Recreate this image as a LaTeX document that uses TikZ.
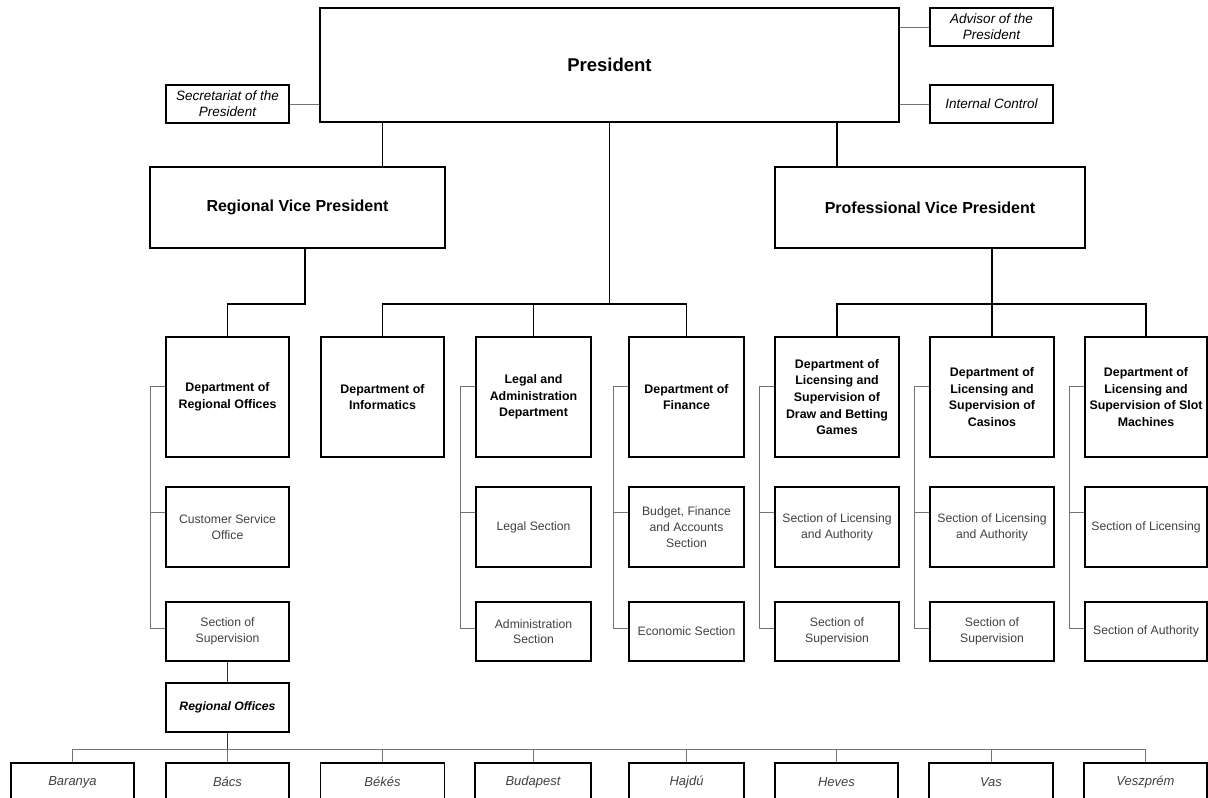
\documentclass[tikz,border=0pt]{standalone}
\usepackage{fontspec}
\setmainfont{Liberation Sans}
\begin{document}
\begin{tikzpicture}[x=1pt, y=-1pt,
          every node/.style={draw, shape=rectangle, line width=1.5pt, align=center, inner sep=1pt},
          dept/.style={minimum height=120pt, font=\bfseries\fontsize{12.4}{16.6}\selectfont},
          sect/.style={minimum height=80pt, text=black!75, font=\fontsize{12.2}{15.7}\selectfont},
          low/.style={sect, minimum height=59pt},
          vp/.style={minimum height=81pt, font=\bfseries\fontsize{16}{19}\selectfont},
          aide/.style={minimum width=123pt, minimum height=38pt, font=\itshape\fontsize{13.5}{16.3}\selectfont},
          county/.style={minimum height=38pt, text=black!75, font=\itshape\fontsize{13}{15}\selectfont},
          link/.style={line width=1.6pt},
          sub/.style={line width=0.9pt, black!55}]
  \useasboundingbox (0,0) rectangle (1208,798);
  \node[minimum width=579pt, minimum height=114pt, font=\bfseries\fontsize{18.5}{22}\selectfont] (pres) at (609.5,65) {President};
  \node[aide] (secr) at (227.5,104) {Secretariat of the\\President};
  \node[aide] (adv) at (991.5,27) {Advisor of the\\President};
  \node[aide] (ictrl) at (991.5,104) {Internal Control};
  \node[vp, minimum width=295pt] (rvp) at (297.5,207.5) {Regional Vice President};
  \node[vp, minimum width=310pt] (pvp) at (930,207.5) {Professional Vice President};

  \node[dept, minimum width=123pt] (dreg) at (227.5,397) {Department of\\Regional Offices};
  \node[dept, minimum width=123pt] (dinf) at (382.5,397) {Department of\\Informatics};
  \node[dept, minimum width=115pt] (dleg) at (533.5,397) {Legal and\\Administration\\Department};
  \node[dept, minimum width=115pt] (dfin) at (686.5,397) {Department of\\Finance};
  \node[dept, minimum width=124pt] (ddraw) at (837,397) {Department of\\Licensing and\\Supervision of\\Draw and Betting\\Games};
  \node[dept, minimum width=124pt] (dcas) at (992,397) {Department of\\Licensing and\\Supervision of\\Casinos};
  \node[dept, minimum width=122pt] (dslot) at (1146,397) {Department of\\Licensing and\\Supervision of Slot\\Machines};

  \node[sect, minimum width=123pt] (sreg) at (227.5,527) {Customer Service\\Office};
  \node[sect, minimum width=115pt] (sleg) at (533.5,527) {Legal Section};
  \node[sect, minimum width=115pt] (sfin) at (686.5,527) {Budget, Finance\\and Accounts\\Section};
  \node[sect, minimum width=124pt] (sdraw) at (837,527) {Section of Licensing\\and Authority};
  \node[sect, minimum width=124pt] (scas) at (992,527) {Section of Licensing\\and Authority};
  \node[sect, minimum width=122pt] (sslot) at (1146,527) {Section of Licensing};

  \node[low, minimum width=123pt] (treg) at (227.5,631.5) {Section of\\Supervision};
  \node[low, minimum width=115pt] (tleg) at (533.5,631.5) {Administration\\Section};
  \node[low, minimum width=115pt] (tfin) at (686.5,631.5) {Economic Section};
  \node[low, minimum width=124pt] (tdraw) at (837,631.5) {Section of\\Supervision};
  \node[low, minimum width=124pt] (tcas) at (992,631.5) {Section of\\Supervision};
  \node[low, minimum width=122pt] (tslot) at (1146,631.5) {Section of Authority};

  \node[minimum width=123pt, minimum height=49pt, font=\bfseries\itshape\fontsize{12.2}{15}\selectfont] (ro) at (227.5,707.5) {Regional Offices};

  \node[county, minimum width=123pt] (c0) at (72.5,782) {Baranya};
  \node[county, minimum width=123pt] (c1) at (227.5,782) {Bács};
  \node[county, minimum width=124pt] (c2) at (382.5,782) {Békés};
  \node[county, minimum width=116pt] (c3) at (533,782) {Budapest};
  \node[county, minimum width=115pt] (c4) at (686.5,782) {Hajdú};
  \node[county, minimum width=123pt] (c5) at (836.5,782) {Heves};
  \node[county, minimum width=124pt] (c6) at (991,782) {Vas};
  \node[county, minimum width=123pt] (c7) at (1145.5,782) {Veszprém};

  \coordinate (hub) at (609.5,304);
  \coordinate (rhub) at (305,304);
  \coordinate (phub) at (992,304);
  \coordinate (obus) at (227.5,749);

  \draw[sub] (secr.east) -- (secr.east -| pres.west);
  \draw[sub] (adv.west) -- (adv.west -| pres.east);
  \draw[sub] (ictrl.west) -- (ictrl.west -| pres.east);

  \draw[link] (pres.south -| dinf.north) -- (rvp.north -| dinf.north);
  \draw[link] (pres.south -| ddraw.north) -- (pvp.north -| ddraw.north);
  \draw[link] (pres.south) -- (hub);
  \draw[link] (dinf.north) |- (hub) -| (dfin.north);
  \draw[link] (dleg.north) -- (dleg.north |- hub);
  \draw[link] (rvp.south -| rhub) -- (rhub) -| (dreg.north);
  \draw[link] (pvp.south -| phub) -- (dcas.north);
  \draw[link] (ddraw.north) |- (phub) -| (dslot.north);

  \foreach \c in {reg,leg,fin,draw,cas,slot}{
    \draw[sub] ([yshift=11pt]d\c.west) -- ++(-15pt,0) |- ([yshift=3pt]t\c.west);
    \draw[sub] ([yshift=15pt]s\c.west) -- ++(-15pt,0);
  }

  \draw[line width=0.9pt, black!80] (treg.south) -- (ro.north);
  \draw[line width=0.9pt, black!80] (ro.south) -- (obus);
  \draw[sub] (c0.north |- obus) -- (c7.north |- obus);
  \foreach \k in {0,...,7}
    \draw[sub] (c\k.north |- obus) -- (c\k.north);
\end{tikzpicture}
\end{document}
